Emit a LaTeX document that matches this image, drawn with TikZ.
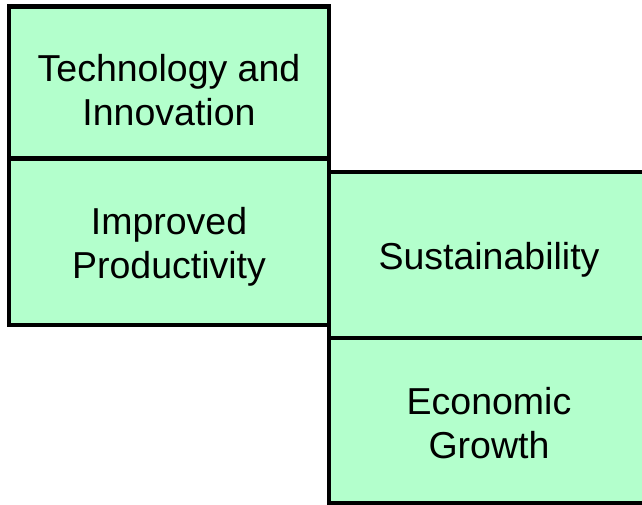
\documentclass[tikz,border=0pt]{standalone}
\usepackage{fontspec}
\setmainfont{Liberation Sans}

\definecolor{boxgreen}{RGB}{179,255,204}

\tikzset{
    box/.style={draw=black, line width=4.8pt, fill=boxgreen, minimum width=320pt, inner sep=0pt, outer sep=0pt},
    boxtext/.style={align=center, inner sep=0pt, anchor=north, font=\fontsize{37.5}{44}\selectfont}
}

\begin{document}
\begin{tikzpicture}[x=1pt, y=-1pt]

    % Fix the page size
    \useasboundingbox (0,0) rectangle (642,505);

    % Left column: two stacked boxes
    \node[box, minimum height=152pt, anchor=north west] (tech) at (9,6.5) {};
    \node[box, minimum height=166.5pt, anchor=north] (prod) at (tech.south) {};

    % Right column: shifted down, runs past the right edge
    \node[box, minimum height=166pt, anchor=north west] (sust) at (329,172) {};
    \node[box, minimum height=165pt, anchor=north] (econ) at (sust.south) {};

    % Labels, placed by the top of their first line
    \node[boxtext] (techtext) at (169,54) {Technology and\\Innovation};
    \node[boxtext] (prodtext) at (169,207) {Improved\\Productivity};
    \node[boxtext] (susttext) at (489,242) {Sustainability};
    \node[boxtext] (econtext) at (489,387) {Economic\\Growth};

\end{tikzpicture}
\end{document}
